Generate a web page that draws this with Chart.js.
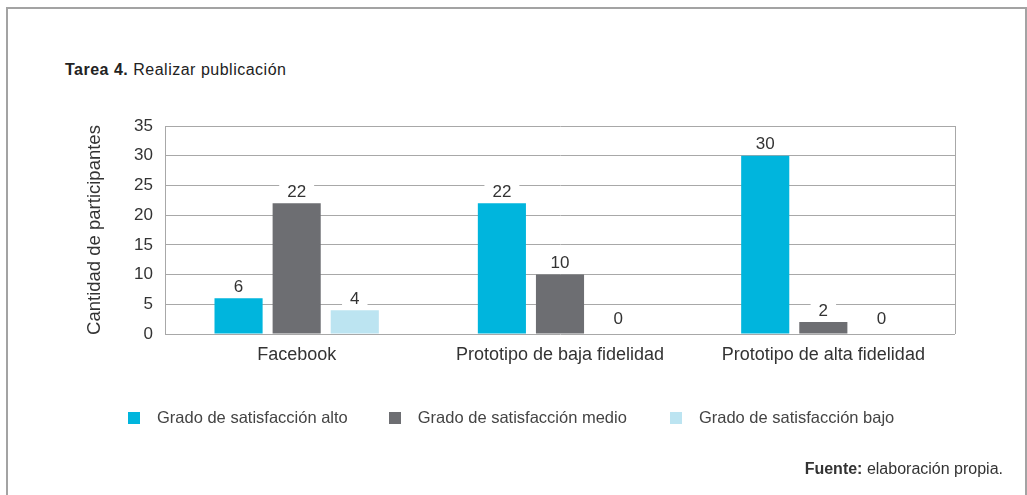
<!DOCTYPE html>
<html>
<head>
<meta charset="utf-8">
<script src="https://cdn.jsdelivr.net/npm/chart.js@4"></script>
<style>
  html, body { margin:0; padding:0; background:#fff; }
  body { width:1027px; height:495px; position:relative; overflow:hidden; font-family:"Liberation Sans", Arial, sans-serif; color:#333; }
  #frame { position:absolute; left:6px; top:7px; width:1021px; height:520px; border:2px solid #a3a3a3; box-sizing:border-box; }
  #title { position:absolute; left:65px; top:61px; font-size:16px; letter-spacing:0.5px; color:#222; white-space:nowrap; }
  #title b { font-weight:bold; }
  #chartWrap { position:absolute; left:0; top:0; width:1027px; height:495px; }
  #legend { position:absolute; left:128px; top:408px; display:flex; font-size:16.5px; color:#444; white-space:nowrap; }
  .item { display:flex; align-items:center; }
  .box { width:12px; height:12px; margin-right:17px; }
  #source { position:absolute; right:24px; top:460px; font-size:16px; color:#333; white-space:nowrap; }
</style>
</head>
<body>
<div id="frame"></div>
<div id="title"><b>Tarea 4.</b> Realizar publicación</div>
<div id="chartWrap"><canvas id="c" width="1027" height="495"></canvas></div>
<div id="legend"></div>
<div id="source"><b>Fuente:</b> elaboración propia.</div>
<script>
const categories = ["Facebook", "Prototipo de baja fidelidad", "Prototipo de alta fidelidad"];
const seriesNames = ["Grado de satisfacción alto", "Grado de satisfacción medio", "Grado de satisfacción bajo"];
const altoValues = [6, 22, 30];
const medioValues = [22, 10, 2];
const bajoValues = [4, 0, 0];
const seriesColors = ["#00b5dd", "#6d6e72", "#bce4f1"];
const yTicks = [0, 5, 10, 15, 20, 25, 30, 35];
const yAxisTitle = "Cantidad de participantes";

const gridColor = "#a8a8a8";
const FONT = "'Liberation Sans', Arial, sans-serif";

const datasets = [altoValues, medioValues, bajoValues].map((vals, i) => ({
  label: seriesNames[i],
  data: vals,
  backgroundColor: seriesColors[i],
  borderWidth: 0,
  categoryPercentage: 0.662,
  barPercentage: 0.828
}));

// HTML legend built from series
const legendEl = document.getElementById('legend');
const gaps = [41, 43, 0];
seriesNames.forEach((n, i) => {
  const it = document.createElement('div');
  it.className = 'item';
  it.style.marginRight = gaps[i] + 'px';
  const b = document.createElement('span');
  b.className = 'box';
  b.style.background = seriesColors[i];
  const t = document.createElement('span');
  t.textContent = n;
  it.appendChild(b); it.appendChild(t);
  legendEl.appendChild(it);
});

const frameBorder = {
  id: 'frameBorder',
  beforeDatasetsDraw(chart) {
    const {ctx, chartArea: a} = chart;
    ctx.save();
    ctx.strokeStyle = gridColor;
    ctx.lineWidth = 1;
    ctx.beginPath();
    ctx.moveTo(Math.round(a.right) + 0.5, a.top);
    ctx.lineTo(Math.round(a.right) + 0.5, a.bottom);
    ctx.stroke();
    ctx.restore();
  }
};

const valueLabels = {
  id: 'valueLabels',
  afterDatasetsDraw(chart) {
    const ctx = chart.ctx;
    ctx.save();
    ctx.font = "17px " + FONT;
    ctx.textAlign = 'center';
    ctx.textBaseline = 'middle';
    chart.data.datasets.forEach((ds, di) => {
      const meta = chart.getDatasetMeta(di);
      meta.data.forEach((el, i) => {
        const v = ds.data[i];
        const txt = String(v);
        const cy = el.y - (v === 0 ? 16 : 12);
        const w = ctx.measureText(txt).width + 16;
        ctx.fillStyle = '#fff';
        ctx.fillRect(el.x - w / 2, cy - 8, w, 16);
        ctx.fillStyle = '#333';
        ctx.fillText(txt, el.x, cy + 1);
      });
    });
    ctx.restore();
  }
};

new Chart(document.getElementById('c'), {
  type: 'bar',
  data: { labels: categories, datasets },
  options: {
    responsive: false,
    animation: false,
    devicePixelRatio: 1,
    layout: { padding: { left: 80, top: 126, right: 72, bottom: 121 } },
    plugins: { legend: { display: false }, tooltip: { enabled: false }, title: { display: false } },
    scales: {
      x: {
        grid: { display: false, drawTicks: false },
        border: { display: false },
        ticks: { color: '#333', font: { family: FONT, size: 18 }, padding: 10, maxRotation: 0, autoSkip: false },
        afterFit(s) { s.height = 40; }
      },
      y: {
        min: 0, max: 35,
        afterBuildTicks(s) { s.ticks = yTicks.map(v => ({ value: v })); },
        grid: { color: gridColor, lineWidth: 1, drawTicks: false },
        border: { display: true, color: gridColor, width: 1 },
        ticks: { color: '#333', font: { family: FONT, size: 17 }, padding: 12 },
        title: { display: true, text: yAxisTitle, color: '#333', font: { family: FONT, size: 18.5 }, padding: { top: 4, bottom: 0 } },
        afterFit(s) { s.width = 85; }
      }
    }
  },
  plugins: [frameBorder, valueLabels]
});
</script>
</body>
</html>
